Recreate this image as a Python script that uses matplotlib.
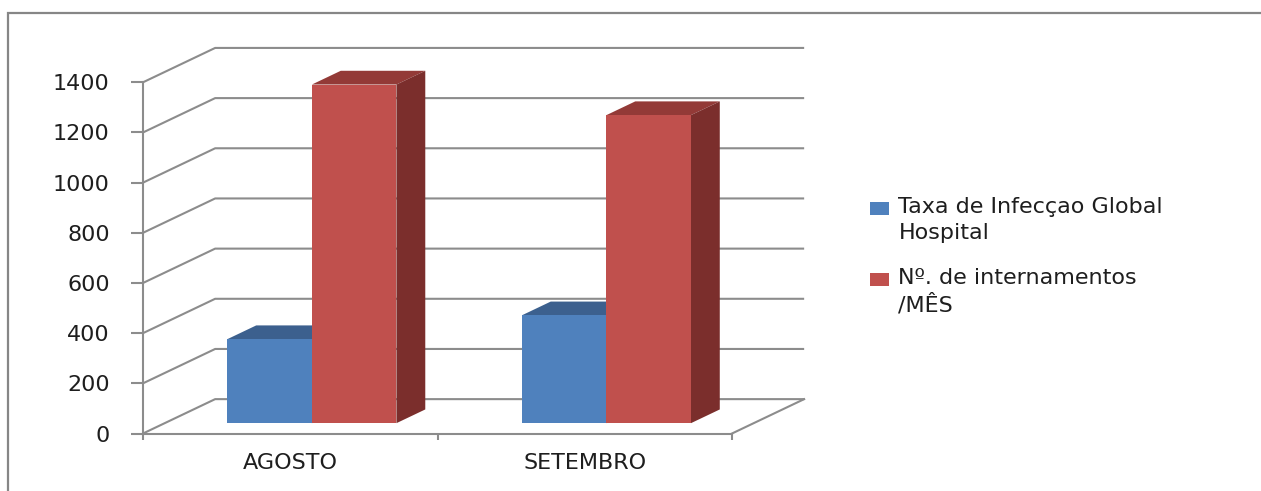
import matplotlib
matplotlib.use("Agg")
import matplotlib.pyplot as plt
from matplotlib.patches import Polygon, Patch, Rectangle
from matplotlib.legend_handler import HandlerPatch

# ---------------- data ----------------
categories = ["AGOSTO", "SETEMBRO"]
series_names = ["Taxa de Infecçao Global\nHospital", "Nº. de internamentos\n/MÊS"]
taxa_infeccao = [335, 430]
internamentos = [1350, 1228]
y_ticks = [0, 200, 400, 600, 800, 1000, 1200, 1400]

# ---------------- style ----------------
front_colors = ["#4F81BD", "#C0504D"]
top_colors = ["#3C608E", "#933A37"]
side_colors = ["#2F4C72", "#7B2E2C"]
grid_color = "#8C8C8C"
text_color = "#1E1E1E"
font = "DejaVu Sans"

W, H = 1261, 491
fig = plt.figure(figsize=(W / 100, H / 100), dpi=100)
fig.patch.set_facecolor("white")

# oblique 3-D projection parameters (data units)
DX, DY = 0.245, 137.0          # full depth of the floor
bar_front, bar_depth = 0.30, 0.40
bar_w = 0.287
x_lo, x_hi = -0.5, len(categories) - 0.5
y_top = max(y_ticks)

# axes placement in pixels
px_per_x = 294.5
px_per_y = 351.2 / y_top
left_px, zero_px = 143, 433.5
ax_w = (x_hi + DX - x_lo) * px_per_x
ax_h = (y_top + DY) * px_per_y
ax = fig.add_axes([left_px / W, (H - zero_px) / H, ax_w / W, ax_h / H])
ax.set_xlim(x_lo, x_hi + DX)
ax.set_ylim(0, y_top + DY)
ax.patch.set_visible(False)

# spines / ticks
for s in ["top", "right"]:
    ax.spines[s].set_visible(False)
ax.spines["left"].set_bounds(0, y_top)
ax.spines["bottom"].set_bounds(x_lo, x_hi)
for s in ["left", "bottom"]:
    ax.spines[s].set_color(grid_color)
    ax.spines[s].set_linewidth(1.5)
ax.set_yticks(y_ticks)
ax.set_yticklabels([str(v) for v in y_ticks])
ax.tick_params(axis="y", length=9, width=1.5, color=grid_color, pad=15,
               labelsize=16, labelcolor=text_color)
ax.set_xticks([x_lo + i for i in range(len(categories) + 1)])
ax.set_xticklabels([])
ax.set_xticks(range(len(categories)), minor=True)
ax.set_xticklabels(categories, minor=True)
ax.tick_params(axis="x", which="major", length=4, width=1.5, color=grid_color)
ax.tick_params(axis="x", which="minor", length=0, pad=14,
               labelsize=16, labelcolor=text_color)
for lab in ax.get_xticklabels(minor=True) + ax.get_yticklabels():
    lab.set_family(font)

# walls: side wall diagonals + back wall gridlines
for v in y_ticks:
    ax.plot([x_lo, x_lo + DX, x_hi + DX], [v, v + DY, v + DY],
            color=grid_color, lw=1.5, zorder=1, clip_on=False,
            solid_capstyle="butt")
# floor right edge
ax.plot([x_hi, x_hi + DX], [0, DY], color=grid_color, lw=1.5, zorder=1,
        clip_on=False)

# bars
ox, oy = bar_front * DX, bar_front * DY
bdx, bdy = bar_depth * DX, bar_depth * DY
series = [taxa_infeccao, internamentos]
for ci in range(len(categories)):
    for si, vals in enumerate(series):
        x0 = ci - bar_w + si * bar_w + ox
        v = vals[ci]
        bottom = oy
        top = oy + v
        z = 3 + ci * 3 + si
        top_poly = Polygon([(x0, top), (x0 + bar_w, top),
                            (x0 + bar_w + bdx, top + bdy), (x0 + bdx, top + bdy)],
                           closed=True, facecolor=top_colors[si],
                           edgecolor="none", zorder=z)
        side_poly = Polygon([(x0 + bar_w, bottom), (x0 + bar_w + bdx, bottom + bdy),
                             (x0 + bar_w + bdx, top + bdy), (x0 + bar_w, top)],
                            closed=True, facecolor=side_colors[si],
                            edgecolor="none", zorder=z)
        ax.add_patch(top_poly)
        ax.add_patch(side_poly)
        ax.bar(x0, v, bottom=bottom, width=bar_w, align="edge",
               color=front_colors[si], edgecolor="none", zorder=z + 0.5)

# legend
MARKER_DROP = 3.6  # points: marker sits level with the lower part of the first line


def lowered_square(legend, orig_handle, xdescent, ydescent, width, height, fontsize):
    return Rectangle((-xdescent, -ydescent - MARKER_DROP), width, height)


handles = [Patch(facecolor=front_colors[i], edgecolor="none", label=series_names[i])
           for i in range(len(series_names))]
leg = fig.legend(handles=handles, loc="upper left",
                 bbox_to_anchor=(870 / W, 1 - 197 / H),
                 frameon=False, prop={"family": font, "size": 16},
                 handlelength=0.86, handleheight=0.54, handletextpad=0.42,
                 labelspacing=1.15, borderaxespad=0, borderpad=0,
                 handler_map={Patch: HandlerPatch(patch_func=lowered_square)})
for t in leg.get_texts():
    t.set_color(text_color)
    t.set_linespacing(1.35)
# align each legend marker with the first line of its label
for col in leg._legend_handle_box.get_children():
    for item in col.get_children():
        item.align = "top"

# outer chart border (only top and left visible in the crop)
fig.add_artist(Rectangle((8 / W, -0.1), 1.2, (H - 13) / H + 0.1,
                         transform=fig.transFigure, fill=False,
                         edgecolor="#868686", lw=1.6))

fig.savefig("out.png", dpi=100, facecolor="white")
